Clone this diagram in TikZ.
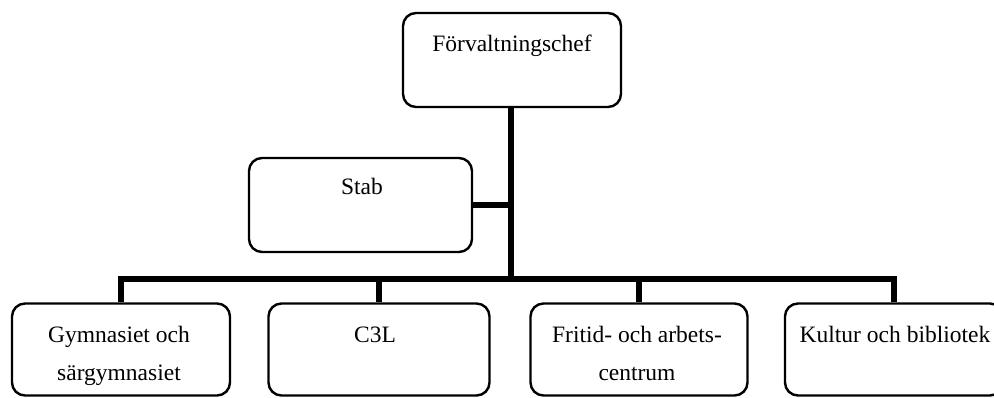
\documentclass[tikz,border=0pt]{standalone}
\usepackage{fontspec}
\setmainfont{Liberation Serif}
\begin{document}
\begin{tikzpicture}[x=1pt,y=-1pt,
  box/.style={draw, line width=2.4pt, rounded corners=13pt, fill=white, inner sep=0pt},
  conn/.style={line width=6pt, line join=miter},
  lbl/.style={font=\fontsize{23.5}{38}\selectfont, align=center, inner sep=0pt, anchor=base}]
\useasboundingbox (0,0) rectangle (994,398);
\clip (0,0) rectangle (994,398);
% boxes
\node[box, minimum width=218pt, minimum height=94pt] (top) at (512,60) {};
\node[box, minimum width=223pt, minimum height=94pt] (stab) at (360.5,205) {};
\node[box, minimum width=218pt, minimum height=92pt] (b1) at (121,349.5) {};
\node[box, minimum width=221pt, minimum height=92pt] (b2) at (379,349.5) {};
\node[box, minimum width=217pt, minimum height=92pt] (b3) at (639,349.5) {};
\node[box, minimum width=218pt, minimum height=92pt] (b4) at (894,349.5) {};
% junctions
\coordinate (j) at (511,279);
% connectors
\draw[conn] (top.south -| j) -- (j);
\draw[conn] (stab.east) -- (stab.east -| j);
\draw[conn] (b1.north) -- (b1.north |- j) -- (b4.north |- j) -- (b4.north);
\draw[conn] (b2.north |- j) -- (b2.north);
\draw[conn] (b3.north |- j) -- (b3.north);
% labels
\node[lbl] (t0) at (512,52) {Förvaltningschef};
\node[lbl] (t1) at (362,195) {Stab};
\node[lbl] (t2) at (119,380) {Gymnasiet och\\särgymnasiet};
\node[lbl] (t3) at (375,342) {C3L};
\node[lbl] (t4) at (637,380) {Fritid- och arbets-\\centrum};
\node[lbl] (t5) at (895,342) {Kultur och bibliotek};
\end{tikzpicture}
\end{document}
